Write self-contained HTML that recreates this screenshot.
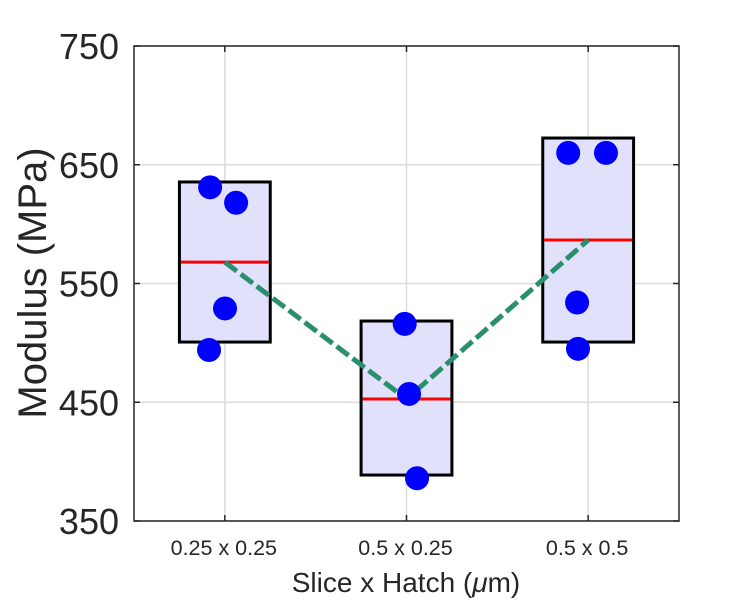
<!DOCTYPE html>
<html><head><meta charset="utf-8"><style>
body{margin:0;background:#fff}
svg{display:block;font-family:"Liberation Sans",sans-serif}
</style></head><body>
<svg id="chart" width="750" height="600">
<g id="grid"></g>
<g id="marks"></g>
<rect x="134" y="46" width="545" height="475" fill="none" stroke="#262626" stroke-width="1.5"/>
<g id="axes"></g>
<text x="46" y="283" transform="rotate(-90 46 283)" text-anchor="middle" font-size="40" fill="#262626">Modulus (MPa)</text>
<text x="406" y="592" text-anchor="middle" font-size="28" fill="#262626">Slice x Hatch (<tspan font-style="italic">μ</tspan>m)</text>
</svg>
<script>
const categories=["0.25 x 0.25","0.5 x 0.25","0.5 x 0.5"];
const boxTop=[635.5,518.4,672.5];
const boxBottom=[500.7,388.7,500.7];
const medians=[568,452.7,586.6];
const pointValues=[[494,631,618,529],[516,457,386],[660,660,534,495]];
const pointOffsets=[[-0.087,-0.081,0.062,0.001],[-0.01,0.014,0.058],[-0.11,0.098,-0.061,-0.056]];
const yTicks=[350,450,550,650,750];
const NS="http://www.w3.org/2000/svg";
const X=v=>134+(v-0.5)*545/3;
const Y=v=>521-(v-350)*475/400;
function mk(p,t,a){const e=document.createElementNS(NS,t);for(const k in a)e.setAttribute(k,a[k]);p.appendChild(e);return e;}
const grid=document.getElementById('grid'),marks=document.getElementById('marks'),axes=document.getElementById('axes');
yTicks.forEach(t=>{
 const g=mk(grid,'line',{x1:134,x2:679,y1:Y(t),y2:Y(t),stroke:'#dcdcdc','stroke-width':1.5});
 
 
 const l=mk(axes,'text',{x:119,y:Y(t)+13,'text-anchor':'end','font-size':36,fill:'#262626'});
 l.textContent=t;
 
 
 mk(axes,'line',{x1:134,x2:140,y1:Y(t),y2:Y(t),stroke:'#262626','stroke-width':1.5});
 mk(axes,'line',{x1:673,x2:679,y1:Y(t),y2:Y(t),stroke:'#262626','stroke-width':1.5});
});
categories.forEach((c,i)=>{
 const x=X(i+1);
 const g=mk(grid,'line',{x1:x,x2:x,y1:46,y2:521,stroke:'#dcdcdc','stroke-width':1.5});
 
 
 const l=mk(axes,'text',{x:x-1,y:555,'text-anchor':'middle','font-size':21.5,fill:'#262626'});
 l.textContent=c;
 
 
 mk(axes,'line',{x1:x,x2:x,y1:521,y2:515,stroke:'#262626','stroke-width':1.5});
 mk(axes,'line',{x1:x,x2:x,y1:46,y2:52,stroke:'#262626','stroke-width':1.5});
});
categories.forEach((c,i)=>{
 const x=X(i+1),w=545/3*0.5;
 const b=mk(marks,'rect',{x:x-w/2,y:Y(boxTop[i]),width:w,height:Y(boxBottom[i])-Y(boxTop[i]),fill:'#e1e1fc',stroke:'#000','stroke-width':3});
 
 
 const m=mk(marks,'line',{x1:x-w/2+1.5,x2:x+w/2-1.5,y1:Y(medians[i]),y2:Y(medians[i]),stroke:'#ff0000','stroke-width':3});
 
 
});
const pl=mk(marks,'polyline',{points:medians.map((m,i)=>X(i+1)+','+Y(m)).join(' '),fill:'none',stroke:'#2a8f6e','stroke-width':5,'stroke-dasharray':'15 5'});


pointValues.forEach((arr,i)=>arr.forEach((v,j)=>{
 const p=mk(marks,'circle',{cx:X(i+1+pointOffsets[i][j]),cy:Y(v),r:12,fill:'#0000ff'});
 
 
}));
</script>
</body></html>
